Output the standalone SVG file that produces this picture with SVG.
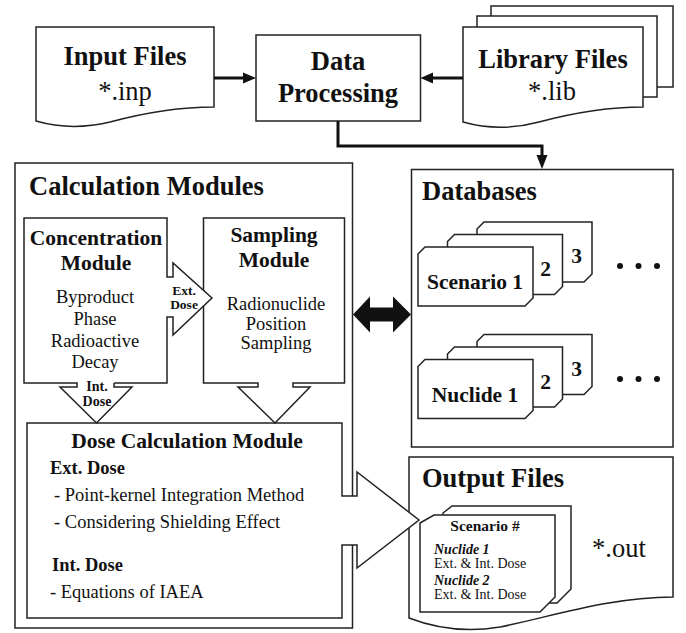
<svg xmlns="http://www.w3.org/2000/svg" width="686" height="633" viewBox="0 0 686 633">
<style>
.box{fill:#fff;stroke:#222;stroke-width:1.5}
.mask{fill:#fff;stroke:none}
.conn{fill:none;stroke:#111;stroke-width:3}
.head{fill:#111;stroke:none}
.arr{fill:#fff;stroke:#222;stroke-width:1.5;stroke-linejoin:miter}
text{font-family:"Liberation Serif","Times New Roman",serif;fill:#111}
.b{font-weight:bold}
.t{font-size:26.5px}
.m{font-size:21.5px}
.r{font-size:18.5px}
.s{font-size:14px}
.c{text-anchor:middle}
.e{text-anchor:end}
</style>
<rect width="686" height="633" fill="#fff"/>

<g id="input-files">
<path class="box" d="M36,27 H214 V107 C175,107 140,114 110,122 C85,128 60,128 36,121 Z"/>
<text class="t b c" x="125" y="65">Input Files</text>
<text class="t c" x="125" y="100">*.inp</text>
</g>

<g id="data-processing">
<rect class="box" x="256" y="35" width="164.5" height="86"/>
<text class="t b c" x="338" y="70">Data</text>
<text class="t b c" x="338" y="102">Processing</text>
</g>

<g id="library-files">
<rect class="box" x="491" y="6" width="182" height="81"/>
<rect class="box" x="477" y="16" width="180" height="81"/>
<path class="box" d="M463,27 H643 V107 C604,107 569,114 539,122 C513,129 488,129 463,122 Z"/>
<text class="t b c" x="553" y="68">Library Files</text>
<text class="t c" x="552" y="100">*.lib</text>
</g>

<g id="calculation-modules">
<rect class="box" x="15" y="163" width="337.5" height="465"/>
<text class="t b" x="29" y="195">Calculation Modules</text>
</g>

<g id="concentration-module">
<rect class="box" x="24" y="218" width="143" height="165"/>
<text class="m b c" x="96" y="245">Concentration</text>
<text class="m b c" x="96" y="270">Module</text>
<text class="r c" x="95" y="303">Byproduct</text>
<text class="r c" x="95" y="325">Phase</text>
<text class="r c" x="95" y="347">Radioactive</text>
<text class="r c" x="95" y="368">Decay</text>
</g>

<g id="sampling-module">
<rect class="box" x="203.5" y="218" width="141" height="165"/>
<text class="m b c" x="274" y="242">Sampling</text>
<text class="m b c" x="274" y="267">Module</text>
<text class="r c" x="276" y="310">Radionuclide</text>
<text class="r c" x="276" y="330">Position</text>
<text class="r c" x="276" y="349">Sampling</text>
</g>

<g id="dose-calculation-module">
<rect class="box" x="27" y="423" width="315" height="195"/>
<text class="m b c" x="187" y="448">Dose Calculation Module</text>
<text class="r b" x="50" y="474">Ext. Dose</text>
<text class="r" x="54" y="501">- Point-kernel Integration Method</text>
<text class="r" x="54" y="528">- Considering Shielding Effect</text>
<text class="r b" x="52" y="571">Int. Dose</text>
<text class="r" x="50" y="598">- Equations of IAEA</text>
</g>

<g id="databases">
<rect class="box" x="411.5" y="169.5" width="261.5" height="277.5"/>
<text class="t b" x="422" y="200">Databases</text>
<g id="scenario-stack">
<path class="box" d="M484,222 H592 V274 L584,282 H477 V229 Z"/>
<text class="m b e" x="582" y="263">3</text>
<path class="box" d="M454.5,234.5 H562.5 V286.5 L554.5,294.5 H447.5 V241.5 Z"/>
<text class="m b e" x="551" y="276">2</text>
<path class="box" d="M425,247 H533 V298 L525,306 H418 V254 Z"/>
<text class="m b c" x="475" y="289">Scenario 1</text>
</g>
<g id="nuclide-stack">
<path class="box" d="M484,334.5 H592 V386.5 L584,394.5 H477 V341.5 Z"/>
<text class="m b e" x="582" y="375.5">3</text>
<path class="box" d="M454.5,347 H562.5 V399 L554.5,407 H447.5 V354 Z"/>
<text class="m b e" x="551" y="388.5">2</text>
<path class="box" d="M425,359.5 H533 V410.5 L525,418.5 H418 V366.5 Z"/>
<text class="m b c" x="475" y="401.5">Nuclide 1</text>
</g>
<g id="ellipsis" fill="#111">
<circle cx="620" cy="266" r="3"/><circle cx="638.5" cy="266" r="3"/><circle cx="657" cy="266" r="3"/>
<circle cx="620" cy="379" r="3"/><circle cx="638.5" cy="379" r="3"/><circle cx="657" cy="379" r="3"/>
</g>
</g>

<g id="output-files">
<path class="box" d="M409,457 H673 V597 C610,597 550,617 500,627 C470,632 440,630 409,618 Z"/>
<text class="t b" x="422" y="487">Output Files</text>
<path class="box" d="M452,506 H571 V589 L557,603 H443 V513 Z"/>
<path class="box" d="M434,515 H555 V597 L540,612 H420 V523 Z"/>
<text class="b c" x="485" y="531" style="font-size:15.5px">Scenario #</text>
<text class="s b" x="434" y="554" font-style="italic">Nuclide 1</text>
<text class="s" x="434" y="568">Ext. &amp; Int. Dose</text>
<text class="s b" x="434" y="585" font-style="italic">Nuclide 2</text>
<text class="s" x="434" y="599">Ext. &amp; Int. Dose</text>
<text class="t" x="592" y="557">*.out</text>
</g>

<g id="connectors">
<line class="conn" x1="214" y1="78" x2="245" y2="78"/>
<polygon class="head" points="243,72.5 256,78 243,83.5"/>
<line class="conn" x1="463" y1="78" x2="432" y2="78"/>
<polygon class="head" points="433,72.5 420.5,78 433,83.5"/>
<path class="conn" d="M338,121 V146 H542 V157"/>
<polygon class="head" points="536.5,155 547.5,155 542,169"/>
<polygon class="head" points="353,314.5 370,296.5 370,307.5 393,307.5 393,296.5 411,314.5 393,332.5 393,321.5 370,321.5 370,332.5"/>

<polygon class="mask" points="165.5,277.8 173,277.8 173,263 212,298 173,335 173,316.2 165.5,316.2"/>
<path class="arr" d="M167,277 H173 V263 L212,298 L173,335 V317 H167"/>
<text class="b c" x="184" y="295" style="font-size:13.5px">Ext.</text>
<text class="b c" x="184" y="309" style="font-size:13.5px">Dose</text>

<polygon class="mask" points="77.8,381 114.2,381 114.2,387 132,387 96.5,423 60,387 77.8,387"/>
<path class="arr" d="M77,383 V387 H60 L96.5,423 L132,387 H114 V383"/>
<text class="s b c" x="97" y="391">Int.</text>
<text class="s b c" x="97" y="406">Dose</text>

<polygon class="mask" points="258.8,381 292.2,381 292.2,387 310,387 275,423 238,387 258.8,387"/>
<path class="arr" d="M258,383 V387 H238 L275,423 L310,387 H293 V383"/>

<polygon class="mask" points="340,496.8 357,496.8 357,472 419,520 357,568 357,544.2 340,544.2"/>
<path class="arr" d="M342,496 H357 V472 L419,520 L357,568 V545 H342"/>
</g>
</svg>
